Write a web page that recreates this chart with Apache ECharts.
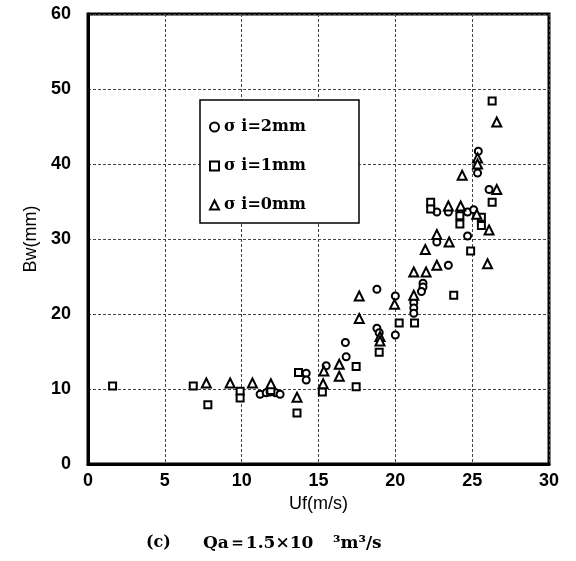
<!DOCTYPE html>
<html>
<head>
<meta charset="utf-8">
<script src="https://cdn.jsdelivr.net/npm/echarts@6/dist/echarts.min.js"></script>
<style>html,body{margin:0;padding:0;background:#fff;}#c{width:576px;height:561px;}</style>
</head>
<body>
<div id="c"></div>
<script>
// σi = 2mm (circles)
var sigma2 = [[11.2,9.3],[11.6,9.5],[11.85,9.6],[12.2,9.5],[12.5,9.3],
  [14.2,12.1],[14.2,11.2],[15.5,13.1],[16.8,14.3],[16.75,16.2],
  [18.8,23.3],[18.8,18.1],[18.95,17.5],[20.0,22.4],[20.0,17.2],
  [21.2,21.5],[21.2,20.8],[21.2,20.1],[21.8,24.1],[21.8,23.6],[21.7,23.0],
  [22.7,29.6],[22.7,33.6],[23.45,26.5],[23.45,33.6],[24.3,33.6],[24.7,33.6],[25.1,33.9],[24.7,30.4],
  [25.35,38.8],[25.4,41.7],[26.1,36.6]];
// σi = 1mm (squares)
var sigma1 = [[1.6,10.4],[6.85,10.4],[7.8,7.9],[9.9,9.7],[9.9,8.8],[11.9,9.8],[13.7,12.2],[13.6,6.8],
  [15.25,9.6],[17.45,13.0],[17.45,10.3],[18.95,14.9],[20.25,18.8],[21.25,18.8],[22.3,34.9],[22.3,34.0],
  [23.8,22.5],[24.2,33.1],[24.2,32.0],[24.9,28.4],[25.6,32.9],[25.6,31.8],[26.3,34.9],[26.3,48.4]];
// σi = 0mm (triangles)
var sigma0 = [[7.7,10.8],[9.25,10.8],[10.7,10.8],[11.9,10.7],[13.6,8.9],[15.35,12.4],[15.3,10.7],
  [16.35,13.3],[16.35,11.7],[17.65,22.4],[17.65,19.4],[19.0,17.0],[19.0,16.4],[19.95,21.3],
  [21.2,22.5],[21.2,25.6],[22.0,25.6],[21.95,28.6],[22.7,30.6],[22.7,26.5],[23.5,29.6],
  [23.45,34.4],[24.25,34.4],[24.35,38.5],[25.3,33.3],[25.35,40.8],[25.35,40.0],[26.6,36.6],
  [26.1,31.2],[26.0,26.7],[26.6,45.6]];

var seriesNames = ['σ i=2mm', 'σ i=1mm', 'σ i=0mm'];
var xTicks = [0, 5, 10, 15, 20, 25, 30];
var yTicks = [0, 10, 20, 30, 40, 50, 60];
var xTitle = 'Uf(m/s)';
var yTitle = 'Bw(mm)';
var captionParts = ['(c)', 'Qa＝1.5×10', '³m³/s'];

var chart = echarts.init(document.getElementById('c'));
var tickFont = {fontFamily: 'Liberation Sans', fontSize: 18, fontWeight: 'bold', color: '#000'};
var nameFont = {fontFamily: 'Liberation Sans', fontSize: 18, color: '#000'};
var mk = function(name, data, sym, size) {
  return {
    name: name, type: 'scatter', data: data, symbol: sym, symbolSize: size,
    itemStyle: {color: '#fff', borderColor: '#000', borderWidth: 2, opacity: 1},
    z: 2
  };
};
var capFont = 'bold 17px "DejaVu Serif"';
chart.setOption({
  animation: false,
  backgroundColor: '#fff',
  grid: {left: 88, right: 27, top: 14, bottom: 97, show: true, borderColor: '#000', borderWidth: 3, backgroundColor: 'transparent'},
  xAxis: {
    type: 'value', min: xTicks[0], max: xTicks[xTicks.length - 1], interval: 5,
    name: xTitle, nameLocation: 'middle', nameGap: 30,
    nameTextStyle: nameFont,
    axisLine: {show: true, lineStyle: {color: '#000', width: 3}},
    axisTick: {show: false},
    axisLabel: Object.assign({margin: 8}, tickFont),
    splitLine: {show: true, lineStyle: {color: '#444', width: 1, type: [3, 2]}}
  },
  yAxis: {
    type: 'value', min: yTicks[0], max: yTicks[yTicks.length - 1], interval: 10,
    name: yTitle, nameLocation: 'middle', nameGap: 42,
    nameTextStyle: nameFont,
    axisLine: {show: true, lineStyle: {color: '#000', width: 3}},
    axisTick: {show: false},
    axisLabel: Object.assign({margin: 17}, tickFont),
    splitLine: {show: true, lineStyle: {color: '#444', width: 1, type: [3, 2]}}
  },
  legend: {
    data: seriesNames, orient: 'vertical', left: 204, top: 114, itemGap: 23,
    itemWidth: 9, itemHeight: 9,
    itemStyle: {color: '#fff', borderColor: '#000', borderWidth: 2},
    textStyle: {fontFamily: 'DejaVu Serif', fontWeight: 'bold', fontSize: 16, color: '#000', padding: [0, 0, 0, 0]},
    z: 5
  },
  graphic: [
    {type: 'rect', shape: {x: 200, y: 100, width: 159, height: 123}, style: {fill: '#fff', stroke: '#000', lineWidth: 1.5}, z: 3},
    {type: 'text', left: 146, top: 535, style: {text: captionParts[0], font: 'bold 16px "DejaVu Serif"', fill: '#000'}, z: 3},
    {type: 'text', left: 203, top: 535, style: {text: captionParts[1], font: capFont, fill: '#000'}, z: 3},
    {type: 'text', left: 333, top: 535, style: {text: captionParts[2], font: capFont, fill: '#000'}, z: 3}
  ],
  series: [
    mk(seriesNames[0], sigma2, 'circle', 7),
    mk(seriesNames[1], sigma1, 'rect', 7),
    mk(seriesNames[2], sigma0, 'triangle', 9)
  ]
});
</script>
</body>
</html>
